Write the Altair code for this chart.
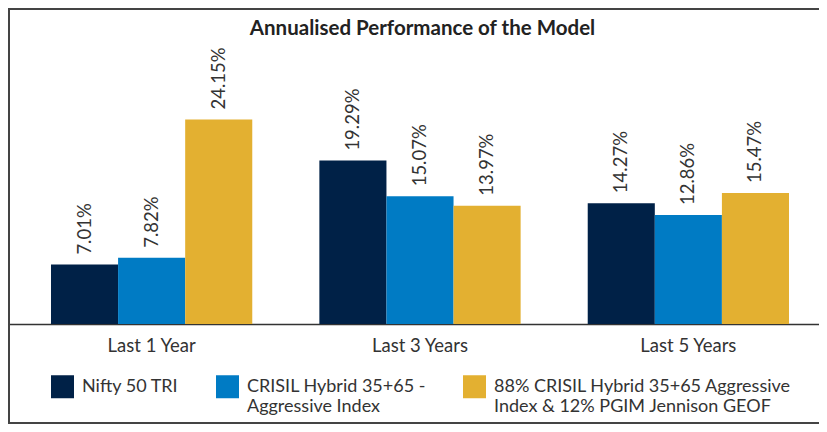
import altair as alt
import pandas as pd

# ---- data ----
periods = ["Last 1 Year", "Last 3 Years", "Last 5 Years"]
series = [
    "Nifty 50 TRI|",
    "CRISIL Hybrid 35+65 -|Aggressive Index",
    "88% CRISIL Hybrid 35+65 Aggressive|Index & 12% PGIM Jennison GEOF",
]
nifty = [7.01, 19.29, 14.27]
crisil = [7.82, 15.07, 12.86]
blend = [24.15, 13.97, 15.47]
colors = ["#002147", "#007bc4", "#e3b031"]

rows = []
for i, p in enumerate(periods):
    for s, vals in zip(series, [nifty, crisil, blend]):
        rows.append({"period": p, "series": s, "value": vals[i], "label": f"{vals[i]:.2f}%"})
df = pd.DataFrame(rows)

FONT = "Lato"
W, H = 811, 416
TEXT = "#333333"

x = alt.X(
    "period:N",
    sort=periods,
    scale=alt.Scale(paddingInner=0.25, paddingOuter=0.136, align=0.589),
    axis=alt.Axis(
        title=None, orient="bottom", offset=-100, labelAngle=0, ticks=False, tickSize=0,
        labelPadding=12, labelFontSize=18.5, labelColor=TEXT, labelFont=FONT,
        domainColor="#333333", domainWidth=1.5, grid=False,
    ),
)
xo = alt.XOffset("series:N", sort=series, scale=alt.Scale(paddingInner=0, paddingOuter=0))
y = alt.Y("value:Q", stack=False, scale=alt.Scale(domain=[-11.81, 37.31], nice=False), axis=None)
color = alt.Color(
    "series:N",
    sort=series,
    scale=alt.Scale(domain=series, range=colors),
    legend=alt.Legend(
        title=None, orient="none", legendX=43, legendY=367, direction="horizontal", columns=3,
        symbolType="square", symbolSize=529, symbolStrokeWidth=0, symbolOpacity=1,
        labelFontSize=18, labelFont=FONT, labelColor=TEXT, labelOffset=8,
        columnPadding=37, labelLimit=400, padding=0,
        labelExpr="split(datum.label, '|')", labelBaseline="middle",
    ),
)

bars = alt.Chart(df).mark_bar().encode(x=x, xOffset=xo, y=y, color=color)
labels = alt.Chart(df).mark_text(
    angle=270, align="left", baseline="middle", dx=10, fontSize=18.5, color=TEXT, font=FONT
).encode(x=x, xOffset=xo, y=y, text="label:N")

frame_df = pd.DataFrame({"k": [0]})
left = alt.Chart(frame_df).mark_rule(color="#444444", strokeWidth=2).encode(
    x=alt.value(1), y=alt.value(0), y2=alt.value(H)
)
top = alt.Chart(frame_df).mark_rule(color="#444444", strokeWidth=2).encode(
    x=alt.value(0), x2=alt.value(W), y=alt.value(1)
)
bottom = alt.Chart(frame_df).mark_rule(color="#444444", strokeWidth=2).encode(
    x=alt.value(0), x2=alt.value(W), y=alt.value(H - 1)
)

chart = (
    alt.layer(bars, labels, left, top, bottom)
    .properties(
        width=W,
        height=H,
        padding=0,
        autosize=alt.AutoSizeParams(type="none"),
        background="white",
        title=alt.TitleParams(
            "Annualised Performance of the Model",
            anchor="middle", frame="group", offset=-48, baseline="alphabetic",
            fontSize=20.5, font=FONT, fontWeight="bold", color="#222222", dx=9,
        ),
    )
    .configure_view(stroke="transparent")
)

chart.save("out.html", embed_options={"renderer": "svg", "actions": False})
